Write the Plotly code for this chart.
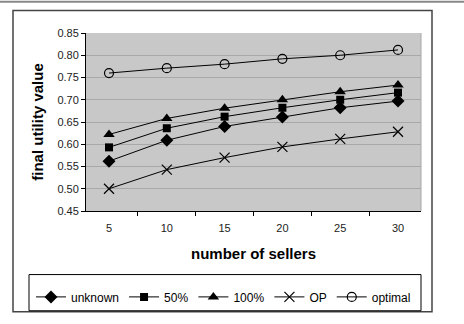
import plotly.graph_objects as go

sellers = ["5", "10", "15", "20", "25", "30"]
unknown = [0.562, 0.609, 0.640, 0.661, 0.682, 0.697]
pct50 = [0.593, 0.636, 0.662, 0.682, 0.700, 0.716]
pct100 = [0.622, 0.658, 0.681, 0.700, 0.718, 0.733]
op = [0.500, 0.543, 0.570, 0.594, 0.612, 0.628]
optimal = [0.760, 0.771, 0.780, 0.792, 0.800, 0.812]

series = [
    ("unknown", unknown, dict(symbol="diamond", size=10, color="black")),
    ("50%", pct50, dict(symbol="square", size=8, color="black")),
    ("100%", pct100, dict(symbol="triangle-up", size=10, color="black")),
    ("OP", op, dict(symbol="x-thin", size=10, color="black", line=dict(color="black", width=1.2))),
    ("optimal", optimal, dict(symbol="circle-open", size=9, color="black", line=dict(color="black", width=1.2))),
]

fig = go.Figure()
for name, vals, mk in series:
    fig.add_trace(go.Scatter(x=sellers, y=vals, name=name, mode="lines+markers",
                             line=dict(color="black", width=1), marker=mk))

L, R, T, B = 86, 421, 33, 215
W, H = 464, 324
pw, ph = R - L, B - T

def px(x):
    return (x - L) / pw

def py(y):
    return (B - y) / ph

fig.update_layout(
    width=W, height=H,
    margin=dict(l=L, r=W - R, t=T, b=H - B),
    paper_bgcolor="white", plot_bgcolor="#c8c8c8",
    font=dict(family="Liberation Sans, Arial", color="black"),
    showlegend=True,
    legend=dict(orientation="h", x=px(31), y=py(288), xanchor="left", yanchor="top",
                font=dict(size=12, weight="normal"), bgcolor="rgba(0,0,0,0)", borderwidth=0,
                tracegroupgap=0, itemwidth=30),
    xaxis=dict(type="category", tickson="boundaries", ticks="outside", ticklen=4,
               tickcolor="black", showline=True, linecolor="black", linewidth=1,
               showgrid=False, tickfont=dict(size=11, color="#222"), ticklabelstandoff=7,
               title=dict(text="<b>number of sellers</b>", font=dict(size=15), standoff=15),
               mirror=False),
    yaxis=dict(range=[0.45, 0.85], dtick=0.05, tickformat=".2f", ticks="outside", ticklen=4,
               tickcolor="black", showline=True, linecolor="black", linewidth=1,
               gridcolor="#a8a8a8", gridwidth=1, tickfont=dict(size=11, color="#222"),
               title=dict(text="<b>final utility value</b>", font=dict(size=15), standoff=10),
               zeroline=False),
)

shapes = [
    dict(type="rect", xref="paper", yref="paper", x0=px(13), x1=px(432), y0=py(318), y1=py(10),
         line=dict(color="#444", width=1.5)),
    dict(type="rect", xref="paper", yref="paper", x0=px(29), x1=px(421), y0=py(317), y1=py(280),
         line=dict(color="black", width=1)),
    dict(type="line", xref="paper", yref="paper", x0=px(0), x1=px(464), y0=py(1), y1=py(1),
         line=dict(color="#888", width=2)),
    dict(type="line", xref="paper", yref="paper", x0=1, x1=1, y0=0, y1=1,
         line=dict(color="#a8a8a8", width=1)),
]
fig.update_layout(shapes=shapes)
fig.write_html("out.html")
